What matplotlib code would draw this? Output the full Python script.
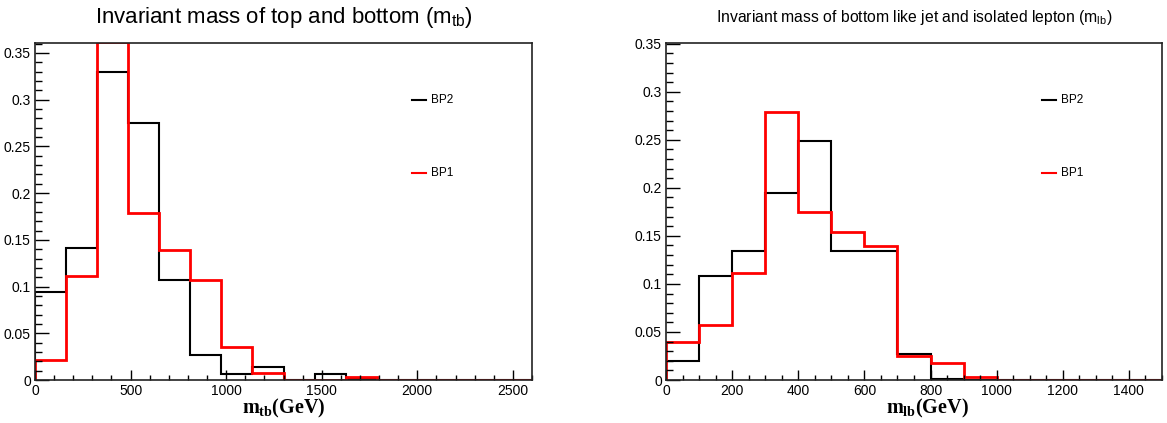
import matplotlib
matplotlib.use("Agg")
import matplotlib.pyplot as plt
import numpy as np
from matplotlib.ticker import MultipleLocator

plt.rcParams["font.family"] = ["Liberation Sans", "DejaVu Sans"]
plt.rcParams["mathtext.fontset"] = "custom"
plt.rcParams["mathtext.rm"] = "Liberation Sans"
plt.rcParams["mathtext.bf"] = "Liberation Serif:bold"

# left panel: m_tb, 16 bins from 0 to 2600 GeV
mtb_edges = np.linspace(0, 2600, 17)
mtb_bp2 = [0.094, 0.141, 0.330, 0.2755, 0.1075, 0.027, 0.0068, 0.0135,
           0.0, 0.0068, 0.001, 0.0, 0.0, 0.0, 0.0, 0.0]
mtb_bp1 = [0.0214, 0.111, 0.362, 0.179, 0.1395, 0.1073, 0.0356, 0.0078,
           0.0, 0.0, 0.0036, 0.0, 0.0, 0.0, 0.0, 0.0]

# right panel: m_lb, 15 bins from 0 to 1500 GeV
mlb_edges = np.linspace(0, 1500, 16)
mlb_bp2 = [0.0201, 0.1078, 0.1345, 0.1948, 0.2485, 0.1341, 0.1341, 0.027,
           0.001, 0.0, 0.0, 0.0, 0.0, 0.0, 0.0]
mlb_bp1 = [0.0395, 0.0572, 0.1109, 0.2786, 0.175, 0.1539, 0.1393, 0.025,
           0.018, 0.0035, 0.0, 0.0, 0.0, 0.0, 0.0]

W, H = 1167, 423
fig = plt.figure(figsize=(W / 100, H / 100), dpi=100)


def style(ax, xmax, ymax, xmaj, xmin):
    ax.set_xlim(0, xmax)
    ax.set_ylim(0, ymax)
    ax.xaxis.set_major_locator(MultipleLocator(xmaj))
    ax.xaxis.set_minor_locator(MultipleLocator(xmin))
    ax.yaxis.set_major_locator(MultipleLocator(0.05))
    ax.yaxis.set_minor_locator(MultipleLocator(0.01))
    ax.yaxis.set_major_formatter(plt.FuncFormatter(lambda v, p: "0" if v == 0 else f"{v:g}"))
    ax.tick_params(axis="y", which="major", direction="in", length=10, width=1.0, labelsize=10, pad=3)
    ax.tick_params(axis="y", which="minor", direction="in", length=5, width=1.0)
    ax.tick_params(axis="x", which="major", direction="in", length=7.5, width=1.0, labelsize=10, pad=3)
    ax.tick_params(axis="x", which="minor", direction="in", length=3.8, width=1.0)
    for s in ax.spines.values():
        s.set_linewidth(1.2)
        s.set_color("#222222")


def panel(ax, edges, bp2, bp1, xlabel, xl_pos):
    ax.stairs(bp2, edges, color="black", linewidth=1.5)
    ax.stairs(bp1, edges, color="#ff0000", linewidth=2.0)
    ax.plot([0.759, 0.786], [0.831, 0.831], color="black", lw=1.5, transform=ax.transAxes)
    ax.plot([0.759, 0.786], [0.613, 0.613], color="#ff0000", lw=1.5, transform=ax.transAxes)
    ax.text(0.797, 0.831, "BP2", fontsize=8.5, va="center", transform=ax.transAxes)
    ax.text(0.797, 0.613, "BP1", fontsize=8.5, va="center", transform=ax.transAxes)
    ax.set_xlabel(xlabel, fontsize=14.5, fontfamily="Liberation Serif", fontweight="bold",
                  va="baseline")
    ax.xaxis.set_label_coords(xl_pos, -0.1)


ax1 = fig.add_axes([35 / W, 43 / H, 497 / W, 337 / H])
panel(ax1, mtb_edges, mtb_bp2, mtb_bp1, r"$\mathbf{m_{tb}}$(GeV)", 0.5)
style(ax1, 2600, 0.3607, 500, 100)

ax2 = fig.add_axes([666 / W, 43 / H, 496 / W, 337 / H])
panel(ax2, mlb_edges, mlb_bp2, mlb_bp1, r"$\mathbf{m_{lb}}$(GeV)", 0.526)
style(ax2, 1500, 0.3507, 200, 50)

fig.text(284 / W, 1 - 23 / H, r"Invariant mass of top and bottom (m$_{\mathrm{tb}}$)",
         fontsize=16, ha="center", va="baseline")
fig.text(914 / W, 1 - 22 / H, r"Invariant mass of bottom like jet and isolated lepton (m$_{\mathrm{lb}}$)",
         fontsize=11.3, ha="center", va="baseline")

fig.savefig("out.png", dpi=100)
